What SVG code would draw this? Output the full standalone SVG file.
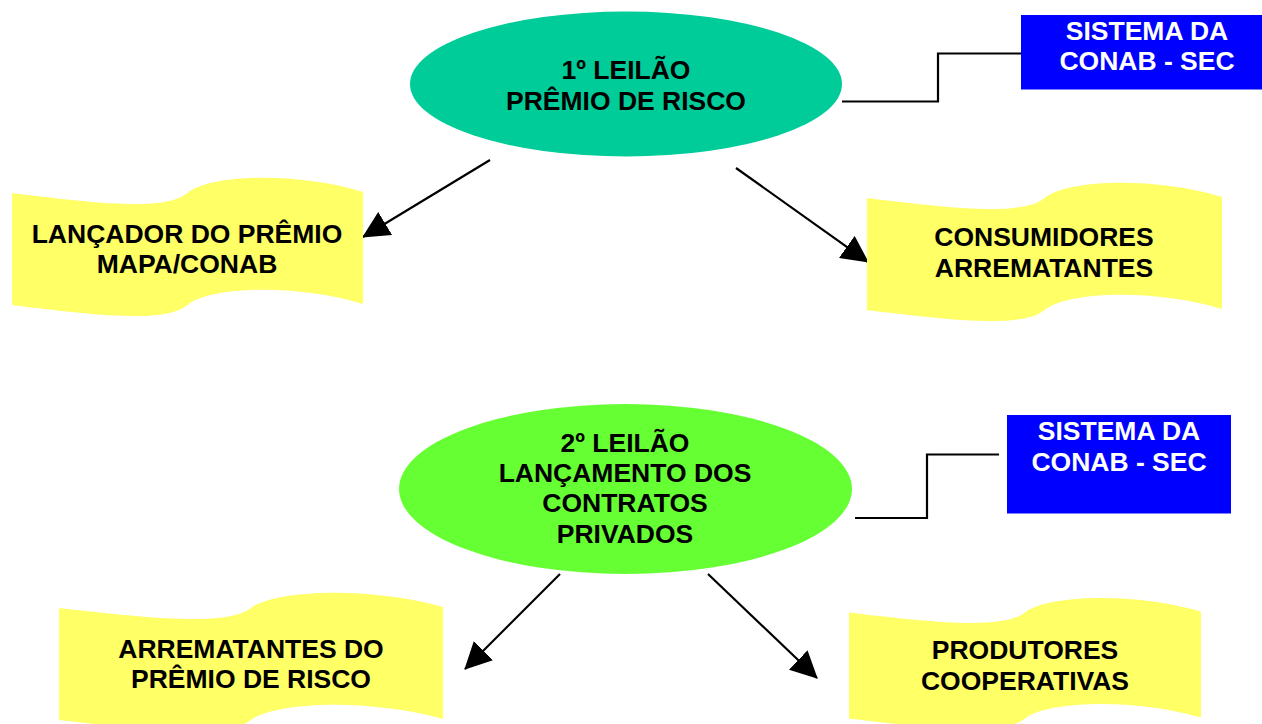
<svg xmlns="http://www.w3.org/2000/svg" width="1262" height="724" viewBox="0 0 1262 724">
<style>
  .t { font-family: "Liberation Sans", Arial, sans-serif; font-weight: bold; font-size: 26.5px; text-anchor: middle; fill: #000; }
  .w { fill: #fff; }
  .banner { fill: #FFFF66; }
  .conn { fill: none; stroke: #000; stroke-width: 2.2; }
  .arr { fill: none; stroke: #000; stroke-width: 2.2; marker-end: url(#ah); }
</style>
<defs>
  <path id="wave" d="M0,0 C25,10 44,16 50,0 C56,-16 80,-20 100,-1 L100,99 C80,80 56,84 50,100 C44,116 25,110 0,100 Z"/>
  <marker id="ah" viewBox="0 0 27 27" refX="26" refY="13.5" markerWidth="27" markerHeight="27" markerUnits="userSpaceOnUse" orient="auto">
    <path d="M0,0 L27,13.5 L0,27 Z" fill="#000"/>
  </marker>
</defs>
<rect width="1262" height="724" fill="#fff"/>

<g id="connectors">
  <polyline class="conn" points="842,101.5 938,101.5 938,53.5 1021,53.5"/>
  <polyline class="conn" points="855,518 927,518 927,454.5 999,454.5"/>
  <line class="arr" x1="490" y1="160" x2="363" y2="237"/>
  <line class="arr" x1="736" y1="168" x2="868" y2="262"/>
  <line class="arr" x1="560" y1="574" x2="465" y2="669"/>
  <line class="arr" x1="708" y1="574" x2="817" y2="678"/>
</g>

<g id="leilao1">
  <ellipse cx="626" cy="84" rx="216" ry="72.5" fill="#00CC99"/>
  <text class="t" x="626" y="79">1º LEILÃO</text>
  <text class="t" x="626" y="109.5">PRÊMIO DE RISCO</text>
</g>

<g id="sec1">
  <rect x="1021" y="15" width="241" height="74.5" fill="#0000FF"/>
  <text class="t w" x="1147" y="39.5">SISTEMA DA</text>
  <text class="t w" x="1147" y="70">CONAB - SEC</text>
</g>

<g id="lancador">
  <use href="#wave" class="banner" transform="translate(12,193) scale(3.51,1.12)"/>
  <text class="t" x="187" y="243">LANÇADOR DO PRÊMIO</text>
  <text class="t" x="187" y="273">MAPA/CONAB</text>
</g>

<g id="consumidores">
  <use href="#wave" class="banner" transform="translate(867,198) scale(3.55,1.12)"/>
  <text class="t" x="1044" y="246">CONSUMIDORES</text>
  <text class="t" x="1044" y="277">ARREMATANTES</text>
</g>

<g id="leilao2">
  <ellipse cx="625.5" cy="489" rx="226.5" ry="85" fill="#66FF33"/>
  <text class="t" x="625" y="451.5">2º LEILÃO</text>
  <text class="t" x="625" y="481.5">LANÇAMENTO DOS</text>
  <text class="t" x="625" y="511.5">CONTRATOS</text>
  <text class="t" x="625" y="542.5">PRIVADOS</text>
</g>

<g id="sec2">
  <rect x="1007" y="415" width="224" height="98.5" fill="#0000FF"/>
  <text class="t w" x="1119" y="440">SISTEMA DA</text>
  <text class="t w" x="1119" y="470.5">CONAB - SEC</text>
</g>

<g id="arrematantes">
  <use href="#wave" class="banner" transform="translate(59,608) scale(3.84,1.12)"/>
  <text class="t" x="251" y="658">ARREMATANTES DO</text>
  <text class="t" x="251" y="688">PRÊMIO DE RISCO</text>
</g>

<g id="produtores">
  <use href="#wave" class="banner" transform="translate(849,612.5) scale(3.52,1.06)"/>
  <text class="t" x="1025" y="659">PRODUTORES</text>
  <text class="t" x="1025" y="690">COOPERATIVAS</text>
</g>
</svg>
